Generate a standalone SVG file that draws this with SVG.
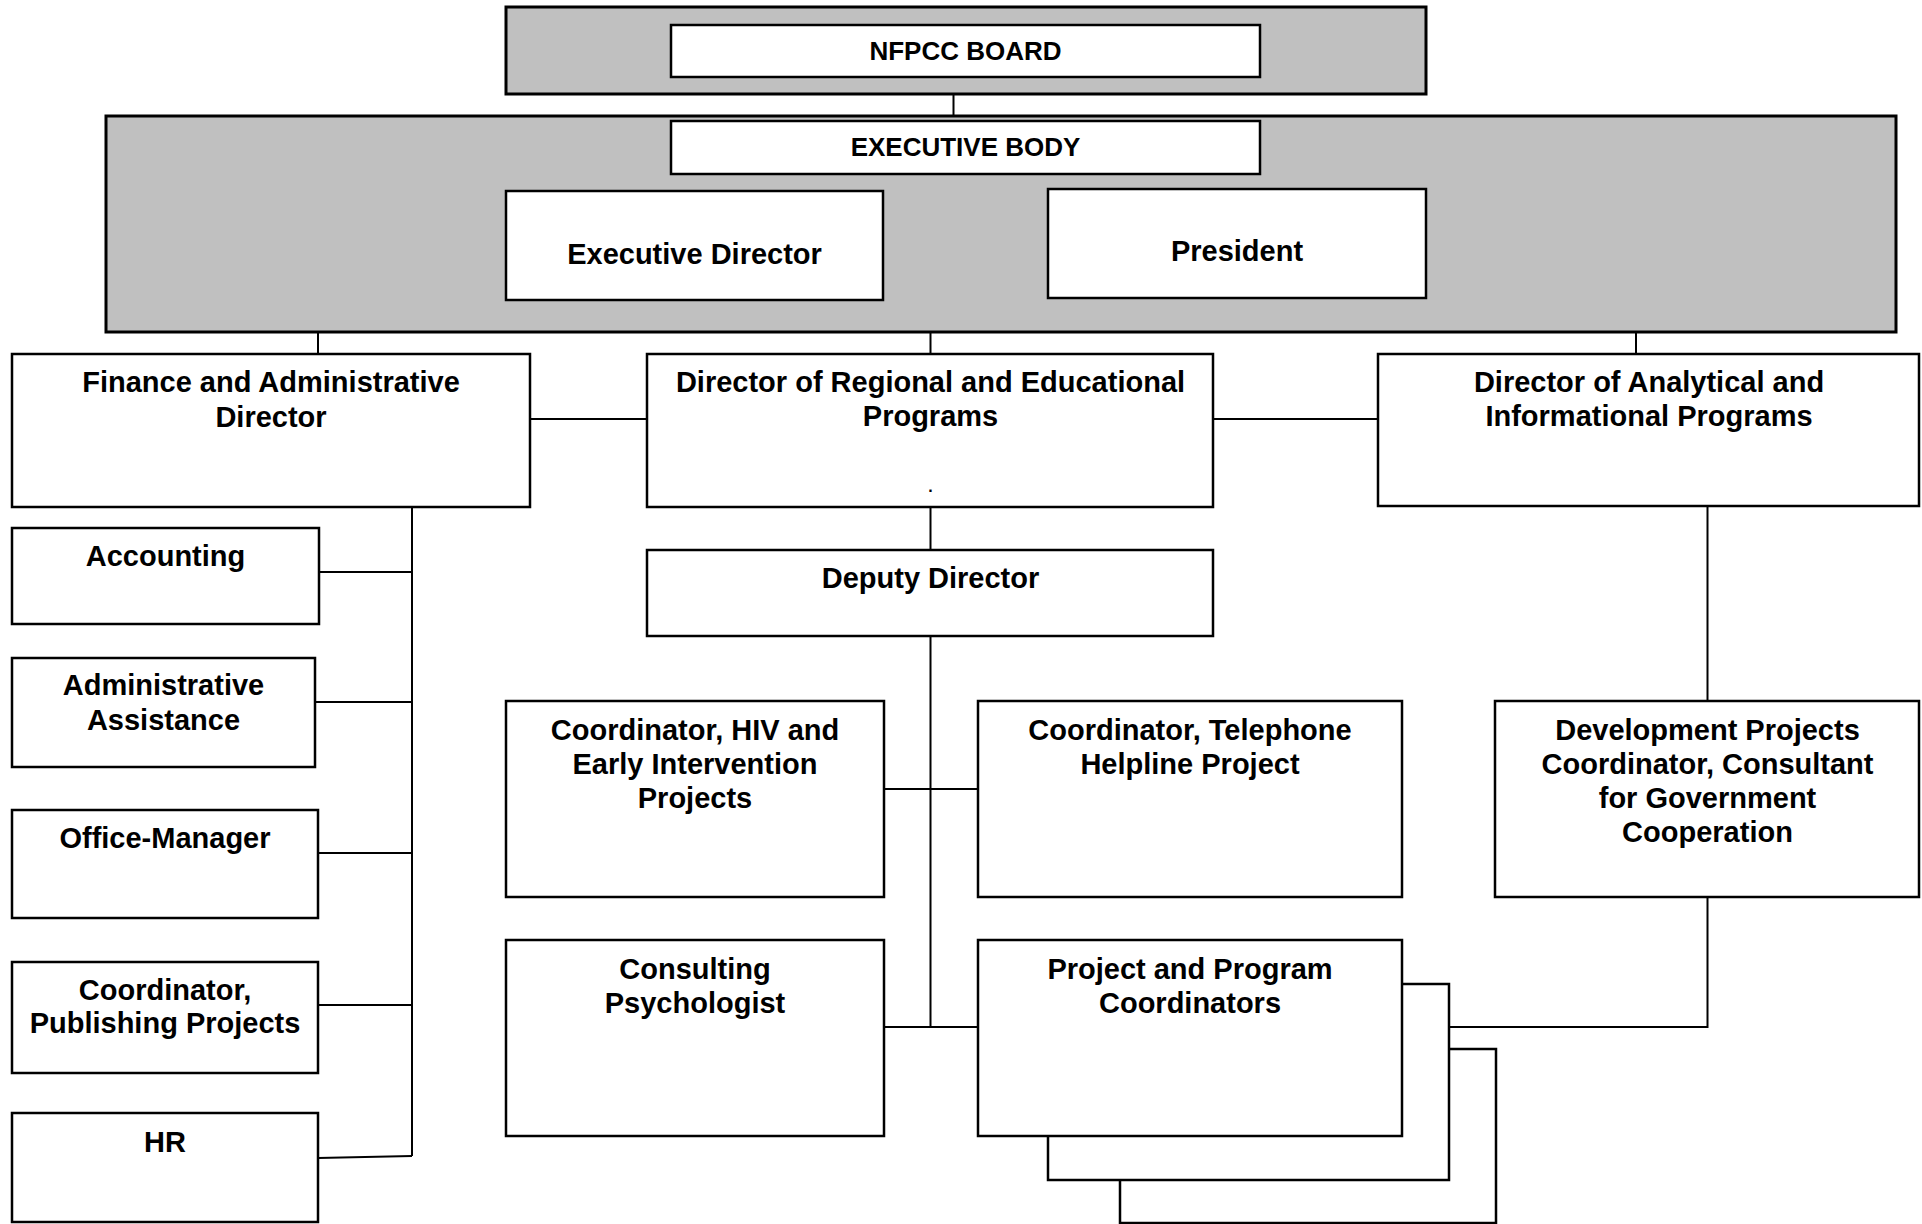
<svg xmlns="http://www.w3.org/2000/svg" width="1922" height="1224" viewBox="0 0 1922 1224">
  <style>
    .bg { fill: #ffffff; }
    .panel { fill: #c0c0c0; stroke: #000; stroke-width: 3; }
    .box { fill: #ffffff; stroke: #000; stroke-width: 2.5; }
    .link { fill: none; stroke: #000; stroke-width: 2; }
    text { font-family: "Liberation Sans", Arial, sans-serif; font-weight: bold; fill: #000; text-anchor: middle; }
    .t { font-size: 29px; }
    .h { font-size: 26px; }
  </style>
  <rect class="bg" x="0" y="0" width="1922" height="1224"/>

  <!-- connectors -->
  <g id="connectors">
    <path class="link" d="M953.5 94 V116"/>
    <path class="link" d="M318 332 V354"/>
    <path class="link" d="M930.5 332 V354"/>
    <path class="link" d="M1636 332 V354"/>
    <path class="link" d="M530 419 H647"/>
    <path class="link" d="M1213 419 H1378"/>
    <!-- finance branch -->
    <path class="link" d="M412 507 V1156"/>
    <path class="link" d="M319 572 H412"/>
    <path class="link" d="M315 702 H412"/>
    <path class="link" d="M318 853 H412"/>
    <path class="link" d="M318 1005 H412"/>
    <path class="link" d="M318 1158 L412 1156"/>
    <!-- regional branch -->
    <path class="link" d="M930.5 507 V550"/>
    <path class="link" d="M930.5 636 V1027"/>
    <path class="link" d="M884 789 H978"/>
    <path class="link" d="M884 1027 H978"/>
    <!-- analytical branch -->
    <path class="link" d="M1707.5 506 V701"/>
    <path class="link" d="M1707.5 897 V1027 H1449"/>
  </g>

  <!-- board -->
  <g id="board">
    <rect class="panel" x="506" y="7" width="920" height="87"/>
    <rect class="box" x="671" y="25" width="589" height="52" stroke-width="2"/>
    <text class="h" x="965.5" y="60">NFPCC BOARD</text>
  </g>

  <!-- executive body -->
  <g id="executive-body">
    <rect class="panel" x="106" y="116" width="1790" height="216"/>
    <rect class="box" x="671" y="121" width="589" height="53" stroke-width="2"/>
    <text class="h" x="965.5" y="156">EXECUTIVE BODY</text>
  </g>
  <g id="executive-director">
    <rect class="box" x="506" y="191" width="377" height="109"/>
    <text class="t" x="694.5" y="264">Executive Director</text>
  </g>
  <g id="president">
    <rect class="box" x="1048" y="189" width="378" height="109"/>
    <text class="t" x="1237" y="261">President</text>
  </g>

  <!-- directors -->
  <g id="finance-director">
    <rect class="box" x="12" y="354" width="518" height="153"/>
    <text class="t" x="271" y="392">Finance and Administrative</text>
    <text class="t" x="271" y="427">Director</text>
  </g>
  <g id="regional-director">
    <rect class="box" x="647" y="354" width="566" height="153"/>
    <text class="t" x="930.5" y="392">Director of Regional and Educational</text>
    <text class="t" x="930.5" y="426">Programs</text>
    <text class="t" x="930.5" y="492" style="font-size:16px">.</text>
  </g>
  <g id="analytical-director">
    <rect class="box" x="1378" y="354" width="541" height="152"/>
    <text class="t" x="1649" y="392">Director of Analytical and</text>
    <text class="t" x="1649" y="426">Informational Programs</text>
  </g>

  <!-- finance staff -->
  <g id="accounting">
    <rect class="box" x="12" y="528" width="307" height="96"/>
    <text class="t" x="165.5" y="566">Accounting</text>
  </g>
  <g id="admin-assistance">
    <rect class="box" x="12" y="658" width="303" height="109"/>
    <text class="t" x="163.5" y="695">Administrative</text>
    <text class="t" x="163.5" y="730">Assistance</text>
  </g>
  <g id="office-manager">
    <rect class="box" x="12" y="810" width="306" height="108"/>
    <text class="t" x="165" y="848">Office-Manager</text>
  </g>
  <g id="publishing">
    <rect class="box" x="12" y="962" width="306" height="111"/>
    <text class="t" x="165" y="1000">Coordinator,</text>
    <text class="t" x="165" y="1033">Publishing Projects</text>
  </g>
  <g id="hr">
    <rect class="box" x="12" y="1113" width="306" height="109"/>
    <text class="t" x="165" y="1152">HR</text>
  </g>

  <!-- regional staff -->
  <g id="deputy-director">
    <rect class="box" x="647" y="550" width="566" height="86"/>
    <text class="t" x="930.5" y="588">Deputy Director</text>
  </g>
  <g id="hiv-coordinator">
    <rect class="box" x="506" y="701" width="378" height="196"/>
    <text class="t" x="695" y="740">Coordinator, HIV and</text>
    <text class="t" x="695" y="774">Early Intervention</text>
    <text class="t" x="695" y="808">Projects</text>
  </g>
  <g id="helpline-coordinator">
    <rect class="box" x="978" y="701" width="424" height="196"/>
    <text class="t" x="1190" y="740">Coordinator, Telephone</text>
    <text class="t" x="1190" y="774">Helpline Project</text>
  </g>
  <g id="psychologist">
    <rect class="box" x="506" y="940" width="378" height="196"/>
    <text class="t" x="695" y="979">Consulting</text>
    <text class="t" x="695" y="1013">Psychologist</text>
  </g>
  <g id="program-coordinators">
    <rect class="box" x="1120" y="1049" width="376" height="174"/>
    <rect class="box" x="1048" y="984" width="401" height="196"/>
    <rect class="box" x="978" y="940" width="424" height="196"/>
    <text class="t" x="1190" y="979">Project and Program</text>
    <text class="t" x="1190" y="1013">Coordinators</text>
  </g>

  <!-- analytical staff -->
  <g id="development-coordinator">
    <rect class="box" x="1495" y="701" width="424" height="196"/>
    <text class="t" x="1707.5" y="740">Development Projects</text>
    <text class="t" x="1707.5" y="774">Coordinator, Consultant</text>
    <text class="t" x="1707.5" y="808">for Government</text>
    <text class="t" x="1707.5" y="842">Cooperation</text>
  </g>
</svg>
